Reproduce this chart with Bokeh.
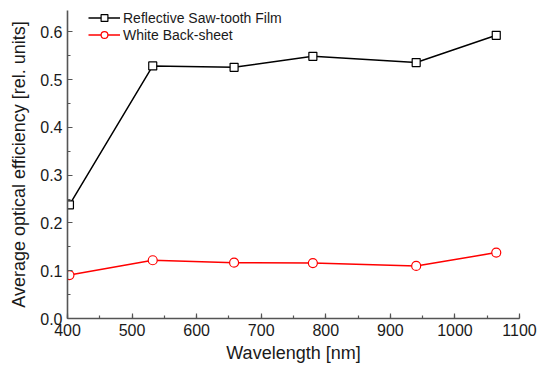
from bokeh.plotting import figure
from bokeh.models import Range1d, SingleIntervalTicker, Legend, LegendItem, NumeralTickFormatter
from bokeh.embed import file_html
from bokeh.resources import INLINE

wavelength = [403, 532, 658, 780, 940, 1064]
saw_tooth = [0.238, 0.529, 0.526, 0.549, 0.536, 0.593]
back_sheet = [0.091, 0.122, 0.117, 0.116, 0.110, 0.138]

p = figure(width=537, height=365, output_backend="svg", toolbar_location=None,
           x_range=Range1d(400, 1100), y_range=Range1d(0, 0.645),
           min_border_left=67, min_border_right=18, min_border_top=10, min_border_bottom=47)
p.outline_line_color = None
p.xgrid.visible = False
p.ygrid.visible = False

font = "Liberation Sans"
p.xaxis.ticker = SingleIntervalTicker(interval=100, num_minor_ticks=2)
p.yaxis.ticker = SingleIntervalTicker(interval=0.1, num_minor_ticks=2)
p.yaxis.formatter = NumeralTickFormatter(format="0.0")
for ax in (p.xaxis, p.yaxis):
    ax.axis_line_color = "#555555"
    ax.axis_line_width = 1.6
    ax.major_tick_line_color = "#555555"
    ax.minor_tick_line_color = "#555555"
    ax.major_tick_line_width = 1.2
    ax.minor_tick_line_width = 1.2
    ax.major_tick_in = 5
    ax.major_tick_out = 0
    ax.minor_tick_in = 3
    ax.minor_tick_out = 0
    ax.major_label_text_font = font
    ax.major_label_text_font_size = "16px"
    ax.major_label_text_color = "#1a1a1a"
    ax.axis_label_text_font = font
    ax.axis_label_text_font_size = "18px"
    ax.axis_label_text_font_style = "normal"
    ax.axis_label_text_color = "#1a1a1a"
p.xaxis.axis_label = "Wavelength [nm]"
p.yaxis.axis_label = "Average optical efficiency [rel. units]"
p.xaxis.major_label_standoff = 5
p.yaxis.major_label_standoff = 5
p.xaxis.axis_label_standoff = 4
p.yaxis.axis_label_standoff = 8

l1 = p.line(wavelength, saw_tooth, line_color="black", line_width=1.5)
s1 = p.scatter(wavelength, saw_tooth, marker="square", size=8, line_color="black",
               fill_color="white", line_width=1.2)
l2 = p.line(wavelength, back_sheet, line_color="red", line_width=1.5)
s2 = p.scatter(wavelength, back_sheet, marker="circle", size=9, line_color="red",
               fill_color="white", line_width=1.2)

legend = Legend(items=[
    LegendItem(label="Reflective Saw-tooth Film", renderers=[l1, s1]),
    LegendItem(label="White Back-sheet", renderers=[l2, s2]),
], location=(21, 275))
legend.border_line_color = None
legend.background_fill_alpha = 0
legend.label_text_font = font
legend.label_text_font_size = "14px"
legend.label_text_color = "#1a1a1a"
legend.glyph_width = 32
legend.glyph_height = 17
legend.label_height = 17
legend.spacing = 0
legend.padding = 0
legend.margin = 0
legend.label_standoff = 3
p.add_layout(legend)

open("out.html", "w").write(file_html(p, INLINE))
